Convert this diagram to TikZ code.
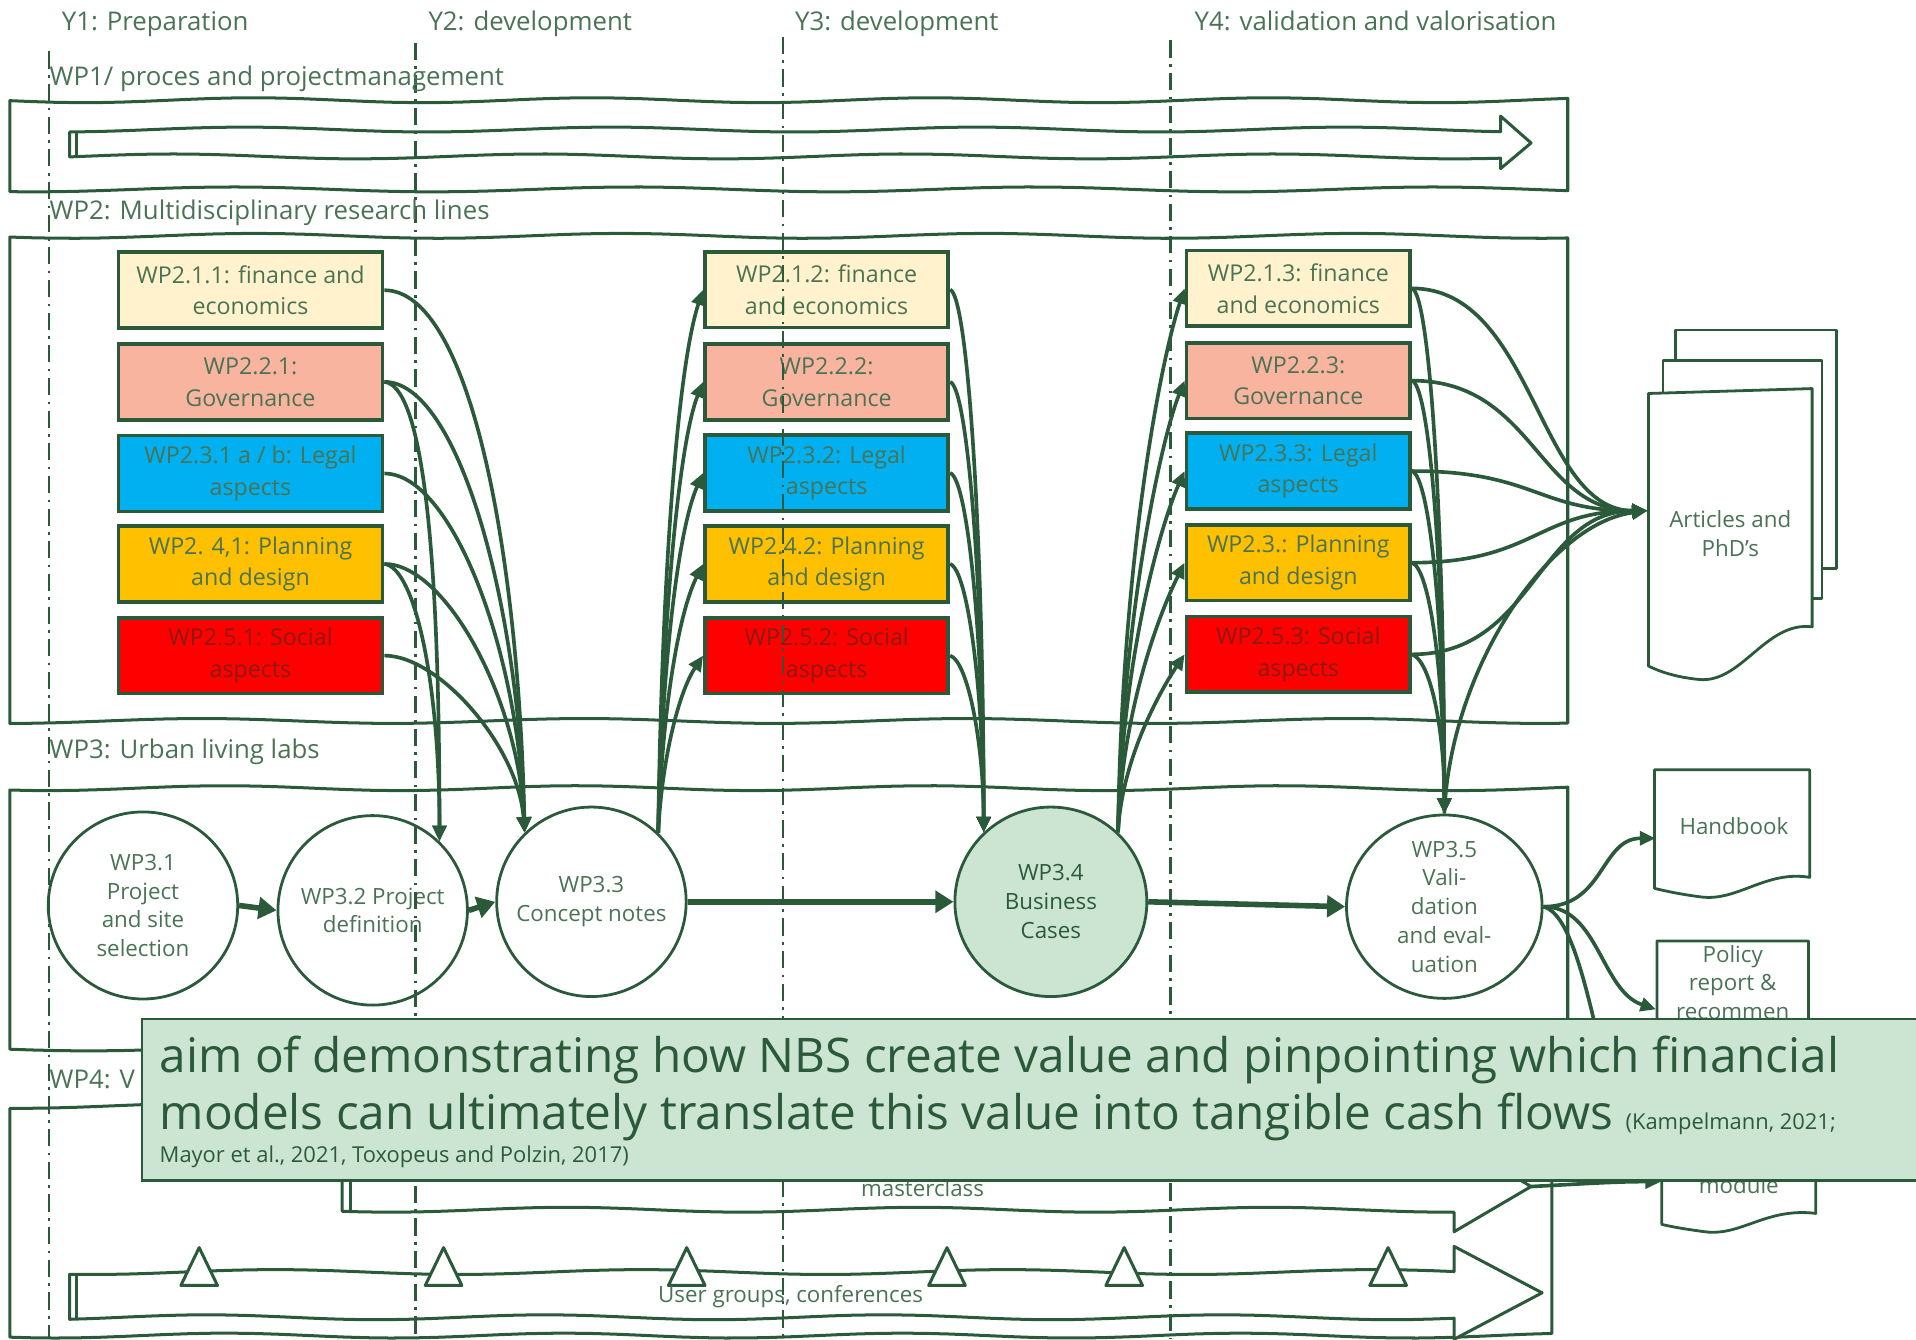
\documentclass[tikz,border=0pt]{standalone}
\usepackage{fontspec}
\setmainfont{Open Sans}
\usetikzlibrary{shapes.geometric,arrows.meta,calc}
\definecolor{lg}{HTML}{2B5A3A}
\definecolor{tg}{HTML}{4A7355}
\definecolor{fillg}{HTML}{CCE5D3}
\definecolor{cream}{HTML}{FFF2CC}
\definecolor{salmon}{HTML}{F9B4A0}
\definecolor{cyanb}{HTML}{00B0F0}
\definecolor{gold}{HTML}{FFC000}
\definecolor{redb}{HTML}{FF0000}
\definecolor{redtxt}{HTML}{8A1A12}
\newcommand\bxfont{\fontsize{5.4pt}{7.4pt}\selectfont}
\newcommand\elfont{\fontsize{5.2pt}{6.7pt}\selectfont}
\newcommand\lbfont{\fontsize{6pt}{7pt}\selectfont}
\newcommand\qtfont{\fontsize{11.1pt}{13pt}\selectfont}
\newcommand\ctfont{\fontsize{5.1pt}{6pt}\selectfont}
\begin{document}
\begin{tikzpicture}[x=0.01cm,y=-0.01cm,
  boxline/.style={draw=lg, line width=0.7pt, line join=round},
  wpbox/.style={draw=lg, line width=0.85pt, minimum height=6.2mm, inner sep=0pt, align=center, font=\bxfont, text=tg},
  ell/.style={ellipse, draw=lg, line width=0.65pt, minimum width=15.5mm, minimum height=15.5mm, inner sep=-2.5pt, align=center, font=\elfont, text=tg},
  conn/.style={draw=lg, line width=0.85pt, -{Triangle[length=3.6pt,width=3.2pt]}},
  flow/.style={draw=lg, line width=1.3pt, -{Triangle[length=4.2pt,width=5pt]}},
  lab/.style={anchor=base west, inner sep=0pt, font=\lbfont, text=tg},
  dashv/.style={draw=lg, line width=0.55pt, dash pattern=on 4pt off 1.5pt on 0.6pt off 1.5pt},
  doctext/.style={inner sep=0pt, align=center, font=\elfont, text=tg},
  docline/.style={draw=lg, line width=0.65pt, fill=white, line join=round}]
\useasboundingbox (0,0) rectangle (1568,1096);

% ---------- big work-package frames ----------
\draw[boxline] plot[domain=8:1283,samples=70] (\x,{82+2*sin(1.3*\x)}) -- plot[domain=1283:8,samples=70] (\x,{155+2*sin(1.1*\x+60)}) -- cycle;
\draw[boxline] plot[domain=8:1283,samples=70] (\x,{193+2*sin(1.2*\x+20)}) -- plot[domain=1283:8,samples=70] (\x,{590+2*sin(1.15*\x+80)}) -- cycle;
\draw[boxline] plot[domain=8:1283,samples=70] (\x,{645+2*sin(1.25*\x+40)}) -- plot[domain=1283:8,samples=70] (\x,{858+2*sin(1.1*\x+10)}) -- cycle;
\draw[boxline] plot[domain=8:1270,samples=70] (\x,{905+2*sin(1.2*\x+70)}) -- plot[domain=1270:8,samples=70] (\x,{1093+2*sin(1.3*\x+30)}) -- cycle;

% WP1 arrow
\draw[boxline, fill=white] plot[domain=57:1228,samples=70] (\x,{106+2*sin(1.2*\x+30)}) -- (1228,95) -- (1253,117) -- (1228,138) -- plot[domain=1228:57,samples=70] (\x,{128+2*sin(1.2*\x+100)}) -- cycle;
\draw[boxline] (63,{106+2*sin(1.2*63+30)}) -- (63,{128+2*sin(1.2*63+100)});

% masterclass arrow
\draw[boxline, fill=white] plot[domain=280:1190,samples=60] (\x,{948+2*sin(1.2*\x)}) -- (1190,934) -- (1253,971) -- (1190,1008) -- plot[domain=1190:280,samples=60] (\x,{990+2*sin(1.25*\x+50)}) -- cycle;
\draw[boxline] (287,{948+2*sin(1.2*287)}) -- (287,{990+2*sin(1.25*287+50)});
\coordinate (mctip) at (1253,971);
\node[doctext, anchor=base] (mcl) at (755,979) {masterclass};

% user groups arrow
\draw[boxline, fill=white] plot[domain=57:1190,samples=70] (\x,{1041+2*sin(1.2*\x)}) -- (1190,1020) -- (1262,1058) -- (1190,1096) -- plot[domain=1190:57,samples=70] (\x,{1078+2*sin(1.3*\x+50)}) -- cycle;
\draw[boxline] (63,{1041+2*sin(1.2*63)}) -- (63,{1078+2*sin(1.3*63+50)});
\foreach \tx in {163,363,562,775,920,1136}
  \draw[boxline, fill=white] (\tx-15,1052) -- (\tx,1021) -- (\tx+15,1052) -- cycle;
\node[doctext, anchor=base] (ugc) at (647,1066) {User groups, conferences};

% ---------- output documents ----------
\draw[docline] (1371,270) rectangle (1503,465);
\draw[docline] (1361,295) rectangle (1491,490);
\draw[docline] (1349,322) -- (1483,318) -- (1483,513) .. controls (1445,508) and (1425,560) .. (1390,556) .. controls (1370,554) and (1357,549) .. (1349,545) -- cycle;
\node[doctext, minimum width=13.4mm, minimum height=23.5mm] (art) at (1416,437) {Articles and\\PhD’s};

\draw[docline] (1354,630) -- (1481,630) -- (1481,718) .. controls (1445,712) and (1422,738) .. (1392,734) .. controls (1376,732) and (1362,729) .. (1354,727) -- cycle;
\node[doctext, minimum width=12.7mm, minimum height=9mm] (hb) at (1419,676) {Handbook};

\draw[docline] (1356,770) -- (1480,770) -- (1480,870) .. controls (1445,864) and (1422,890) .. (1392,886) -- (1356,880) -- cycle;
\node[doctext, minimum width=12.4mm, minimum height=6.8mm] (pol) at (1418,804) {Policy\\report \&\\recommen};

\draw[docline] (1360,900) -- (1486,900) -- (1486,993) .. controls (1445,988) and (1425,1012) .. (1395,1008) .. controls (1380,1006) and (1368,1004) .. (1360,1002) -- cycle;
\node[doctext, minimum width=12.6mm] (mod) at (1423,970) {module};

% ---------- WP2 research line boxes ----------
\node[wpbox, fill=cream,  minimum width=21.6mm] (b11) at (205,237.5) {WP2.1.1: finance and\\economics};
\node[wpbox, fill=salmon, minimum width=21.6mm] (b21) at (205,312.5) {WP2.2.1:\\Governance};
\node[wpbox, fill=cyanb,  minimum width=21.6mm] (b31) at (205,387.5) {WP2.3.1 a / b: Legal\\aspects};
\node[wpbox, fill=gold,   minimum width=21.6mm] (b41) at (205,461.5) {WP2. 4,1: Planning\\and design};
\node[wpbox, fill=redb,   minimum width=21.6mm, text=redtxt] (b51) at (205,536.5) {WP2.5.1: Social\\aspects};

\node[wpbox, fill=cream,  minimum width=19.9mm] (b12) at (676.5,237) {WP2.1.2: finance\\and economics};
\node[wpbox, fill=salmon, minimum width=19.9mm] (b22) at (676.5,312.5) {WP2.2.2:\\Governance};
\node[wpbox, fill=cyanb,  minimum width=19.9mm] (b32) at (676.5,387) {WP2.3.2: Legal\\aspects};
\node[wpbox, fill=gold,   minimum width=19.9mm] (b42) at (676.5,461.5) {WP2.4.2: Planning\\and design};
\node[wpbox, fill=redb,   minimum width=19.9mm, text=redtxt] (b52) at (676.5,536.5) {WP2.5.2: Social\\aspects};

\node[wpbox, fill=cream,  minimum width=18.3mm] (b13) at (1062.5,236) {WP2.1.3: finance\\and economics};
\node[wpbox, fill=salmon, minimum width=18.3mm] (b23) at (1062.5,311.5) {WP2.2.3:\\Governance};
\node[wpbox, fill=cyanb,  minimum width=18.3mm] (b33) at (1062.5,385.5) {WP2.3.3: Legal\\aspects};
\node[wpbox, fill=gold,   minimum width=18.3mm] (b43) at (1062.5,460.5) {WP2.3.: Planning\\and design};
\node[wpbox, fill=redb,   minimum width=18.3mm, text=redtxt] (b53) at (1062.5,535.5) {WP2.5.3: Social\\aspects};

% ---------- WP3 living lab steps ----------
\node[ell, minimum height=15.3mm] (w31) at (117,741) {WP3.1\\Project\\and site\\selection};
\node[ell] (w32) at (305,745) {WP3.2 Project\\definition};
\node[ell] (w33) at (484,738) {WP3.3\\Concept notes};
\node[ell, fill=fillg, text=lg, minimum width=15.7mm] (w34) at (860,738) {WP3.4\\Business\\Cases};
\node[ell, minimum width=16mm, minimum height=15mm] (w35) at (1182,742) {WP3.5\\Vali-\\dation\\and eval-\\uation};

\draw[flow] (w31.east) -- (w32.west);
\draw[flow] (w32.east) -- (w33.west);
\draw[flow] (w33.east) -- (w34.west);
\draw[flow] (w34.east) -- (w35.west);

% column 1 -> WP3.2 / WP3.3
\draw[conn] (b11.east) .. controls +(70,0) and +(-5,-230) .. (w33.134);
\draw[conn] (b21.east) .. controls +(60,0) and +(-5,-190) .. (w33.134);
\draw[conn] (b31.east) .. controls +(55,0) and +(-5,-150) .. (w33.134);
\draw[conn] (b41.east) .. controls +(50,0) and +(-5,-110) .. (w33.134);
\draw[conn] (b51.east) .. controls +(45,0) and +(-5,-70) .. (w33.134);
\draw[conn] (b21.east) .. controls +(30,3) and +(0,-250) .. (w32.46);
\draw[conn] (b41.east) .. controls +(25,3) and +(0,-130) .. (w32.46);

% WP3.3 -> column 2
\draw[conn] (w33.46) .. controls +(3,-220) and +(-20,60) .. (b12.west);
\draw[conn] (w33.46) .. controls +(3,-170) and +(-20,50) .. (b22.west);
\draw[conn] (w33.46) .. controls +(3,-140) and +(-20,45) .. (b32.west);
\draw[conn] (w33.46) .. controls +(3,-100) and +(-20,40) .. (b42.west);
\draw[conn] (w33.46) .. controls +(3,-60) and +(-20,30) .. (b52.west);

% column 2 -> WP3.4
\draw[conn] (b12.east) .. controls +(15,5) and +(0,-230) .. (w34.134);
\draw[conn] (b22.east) .. controls +(15,5) and +(0,-190) .. (w34.134);
\draw[conn] (b32.east) .. controls +(15,5) and +(0,-150) .. (w34.134);
\draw[conn] (b42.east) .. controls +(15,5) and +(0,-110) .. (w34.134);
\draw[conn] (b52.east) .. controls +(15,5) and +(0,-70) .. (w34.134);

% WP3.4 -> column 3
\draw[conn] (w34.46) .. controls +(3,-220) and +(-20,60) .. (b13.west);
\draw[conn] (w34.46) .. controls +(3,-170) and +(-20,50) .. (b23.west);
\draw[conn] (w34.46) .. controls +(3,-140) and +(-20,45) .. (b33.west);
\draw[conn] (w34.46) .. controls +(3,-100) and +(-20,40) .. (b43.west);
\draw[conn] (w34.46) .. controls +(3,-60) and +(-20,30) .. (b53.west);

% column 3 -> WP3.5
\draw[conn] (b13.east) .. controls +(15,5) and +(0,-230) .. (w35.north);
\draw[conn] (b23.east) .. controls +(15,5) and +(0,-190) .. (w35.north);
\draw[conn] (b33.east) .. controls +(15,5) and +(0,-150) .. (w35.north);
\draw[conn] (b43.east) .. controls +(15,5) and +(0,-110) .. (w35.north);
\draw[conn] (b53.east) .. controls +(15,5) and +(0,-70) .. (w35.north);

% column 3 and WP3.5 -> articles
\coordinate (artIn) at ($(art.west)+(0,-19)$);
\draw[conn] (b13.east) .. controls +(100,0) and +(-90,0) .. (artIn);
\draw[conn] (b23.east) .. controls +(100,0) and +(-90,0) .. (artIn);
\draw[conn] (b33.east) .. controls +(100,0) and +(-90,0) .. (artIn);
\draw[conn] (b43.east) .. controls +(100,0) and +(-90,0) .. (artIn);
\draw[conn] (b53.east) .. controls +(100,0) and +(-90,0) .. (artIn);
\draw[conn] (w35.north) .. controls +(5,-120) and +(-80,10) .. (artIn);

% WP3.5 -> outputs
\draw[conn] (w35.east) .. controls +(50,0) and +(-45,0) .. ($(hb.west)+(0,10)$);
\draw[conn] (w35.east) .. controls +(45,0) and +(-45,-15) .. ($(pol.west)+(0,22)$);
\draw[conn] (w35.east) .. controls +(40,10) and +(-45,-20) .. ($(mod.west)+(0,-3)$);
\draw[conn] (mctip) .. controls +(40,-2) and +(-40,0) .. ($(mod.west)+(0,-3)$);

% ---------- year separators ----------
\draw[dashv] (40,42) -- (40,1096);
\draw[dashv] (340,35) -- (340,1096);
\draw[dashv] (641,30) -- (641,1096);
\draw[dashv] (958,33) -- (958,1096);

% ---------- labels ----------
\node[lab] (ly1) at (50,25) {Y1: Preparation};
\node[lab] (ly2) at (350,25) {Y2: development};
\node[lab] (ly3) at (650,25) {Y3: development};
\node[lab] (ly4) at (977,25) {Y4: validation and valorisation};
\node[lab] (lw1) at (40,70) {WP1/ proces and projectmanagement};
\node[lab] (lw2) at (40,180) {WP2: Multidisciplinary research lines};
\node[lab] (lw3) at (40,621) {WP3: Urban living labs};
\node[lab] (lw4) at (40,891) {WP4: V};

% ---------- quote box ----------
\node[draw=lg, line width=0.6pt, fill=fillg, anchor=north west, minimum width=145.2mm, minimum height=13.2mm, inner sep=0pt] (quote) at (115,833) {};
\node[anchor=base west, inner sep=0pt, font=\qtfont, text=lg] (q1) at (130,878) {aim of demonstrating how NBS create value and pinpointing which financial};
\node[anchor=base west, inner sep=0pt, font=\qtfont, text=lg] (q2) at (130,924) {models can ultimately translate this value into tangible cash flows {\ctfont (Kampelmann, 2021;}};
\node[anchor=base west, inner sep=0pt, font=\ctfont, text=lg] (q3) at (130,951) {Mayor et al., 2021, Toxopeus and Polzin, 2017)};
\end{tikzpicture}
\end{document}
